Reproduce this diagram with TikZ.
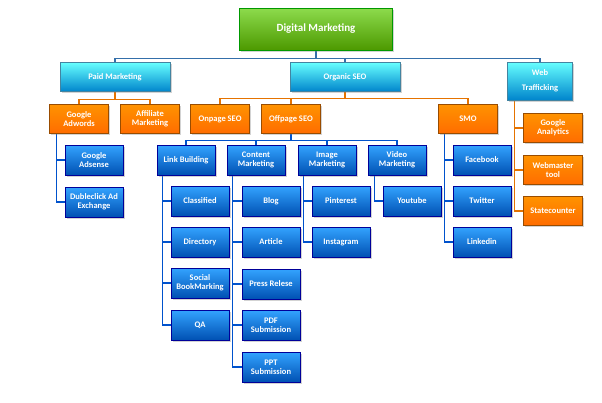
\documentclass[tikz,border=0pt]{standalone}
\usepackage{fontspec}
\setmainfont{Carlito}
\usetikzlibrary{shadows,backgrounds}

\tikzset{
  box/.style={draw=#1!60!black, line width=0.6pt, font=\bfseries\fontsize{8.5}{9}\selectfont,
    text=white, align=center, inner sep=1pt, drop shadow={opacity=0.35, shadow xshift=1.5pt, shadow yshift=-1.5pt}},
  topbox/.style={box=green, top color=green!55!yellow!80!black!70, bottom color=green!50!yellow!60!black, minimum width=153pt, minimum height=42pt, font=\bfseries\fontsize{11}{12}\selectfont},
  cyanbox/.style={box=cyan, top color=cyan!60, bottom color=cyan!65!blue!80!black, minimum width=110pt, minimum height=29pt},
  orangebox/.style={box=orange, top color=orange!85!yellow, bottom color=orange!85!red, minimum width=59pt, minimum height=29pt},
  bluebox/.style={box=blue, top color=blue!45!cyan!80, bottom color=blue!55!cyan!70!black, minimum width=58pt, minimum height=30pt},
  cline/.style={draw=cyan!55!blue!80!black, line width=1.2pt},
  oline/.style={draw=orange!90!black, line width=1.2pt},
  bline/.style={draw=blue!60!cyan!80!black, line width=1.2pt}
}

\begin{document}
\begin{tikzpicture}[x=1pt,y=-1pt]
\useasboundingbox (0,0) rectangle (602,402);
% top
\node[topbox] (dm) at (316,29) {Digital Marketing};
\node[cyanbox] (paid) at (115,77) {Paid Marketing};
\node[cyanbox] (organic) at (345,77) {Organic SEO};
\node[cyanbox, minimum width=65pt, minimum height=38pt] (web) at (540,81) {Web\\[6pt]Trafficking};
% second row
\node[orangebox] (adwords) at (79,119) {Google\\Adwords};
\node[orangebox] (affiliate) at (150,119) {Affiliate\\Marketing};
\node[orangebox] (onpage) at (220,119) {Onpage SEO};
\node[orangebox] (offpage) at (291,119) {Offpage SEO};
\node[orangebox] (smo) at (468,119) {SMO};
\node[orangebox] (analytics) at (553,128) {Google\\Analytics};
\node[orangebox] (webmaster) at (553,170) {Webmaster\\tool};
\node[orangebox] (statecounter) at (553,211) {Statecounter};
% third row
\node[bluebox] (adsense) at (94,160) {Google\\Adsense};
\node[bluebox] (dubleclick) at (94,202) {Dubleclick Ad\\Exchange};
\node[bluebox] (link) at (186,160) {Link Building};
\node[bluebox] (content) at (256,160) {Content\\Marketing};
\node[bluebox] (image) at (327,160) {Image\\Marketing};
\node[bluebox] (video) at (397,160) {Video\\Marketing};
\node[bluebox] (facebook) at (482,160) {Facebook};
\node[bluebox] (twitter) at (482,201) {Twitter};
\node[bluebox] (linkedin) at (482,242) {Linkedin};
% leaves
\node[bluebox] (classified) at (200,201) {Classified};
\node[bluebox] (directory) at (200,242) {Directory};
\node[bluebox] (social) at (200,283) {Social\\BookMarking};
\node[bluebox] (qa) at (200,325) {QA};
\node[bluebox] (blog) at (271,201) {Blog};
\node[bluebox] (article) at (271,242) {Article};
\node[bluebox] (press) at (271,284) {Press Relese};
\node[bluebox] (pdf) at (271,325) {PDF\\Submission};
\node[bluebox] (ppt) at (271,367) {PPT\\Submission};
\node[bluebox] (pinterest) at (341,201) {Pinterest};
\node[bluebox] (instagram) at (341,242) {Instagram};
\node[bluebox] (youtube) at (412,201) {Youtube};

\begin{scope}[on background layer]
\foreach \c in {paid,organic,web}
  \draw[cline] (dm.south) -- ++(0,8) -| (\c.north);
\foreach \c in {adwords,affiliate}
  \draw[oline] (paid.south) -- ++(0,8) -| (\c.north);
\foreach \c in {onpage,offpage,smo}
  \draw[oline] (organic.south) -- ++(0,7) -| (\c.north);
\foreach \c in {link,content,image,video}
  \draw[bline] (offpage.south) -- ++(0,7) -| (\c.north);
\foreach \c in {adsense,dubleclick}
  \draw[bline] ([xshift=7pt]adwords.south west) |- (\c.west);
\foreach \c in {classified,directory,social,qa}
  \draw[bline] ([xshift=6pt]link.south west) |- (\c.west);
\foreach \c in {blog,article,press,pdf,ppt}
  \draw[bline] ([xshift=6pt]content.south west) |- (\c.west);
\foreach \c in {pinterest,instagram}
  \draw[bline] ([xshift=6pt]image.south west) |- (\c.west);
\draw[bline] ([xshift=7pt]video.south west) |- (youtube.west);
\foreach \c in {facebook,twitter,linkedin}
  \draw[bline] ([xshift=6pt]smo.south west) |- (\c.west);
\foreach \c in {analytics,webmaster,statecounter}
  \draw[oline] ([xshift=7pt]web.south west) |- (\c.west);
\end{scope}
\end{tikzpicture}
\end{document}
